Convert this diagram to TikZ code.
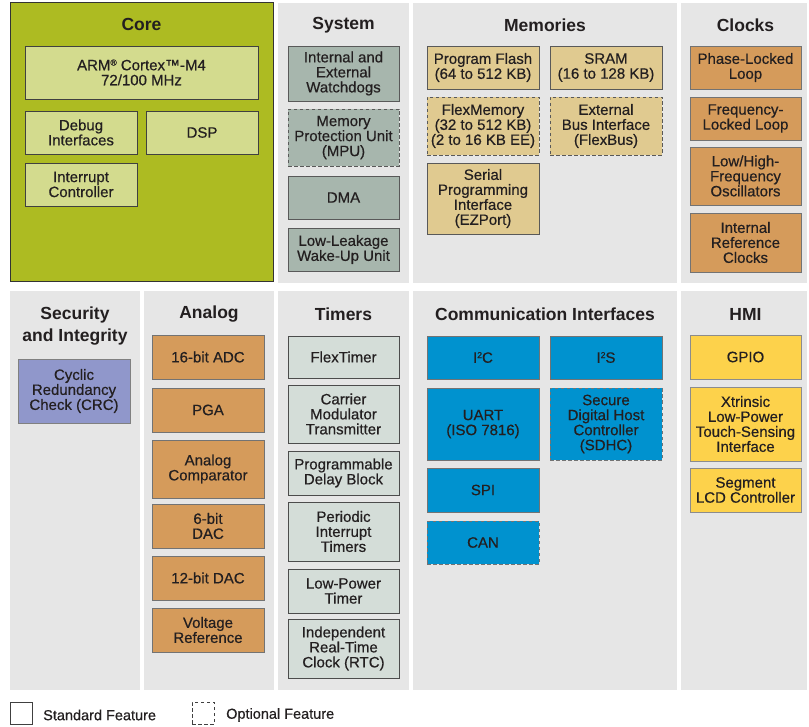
\documentclass[tikz,border=0pt]{standalone}
\usepackage{fontspec}
\setmainfont{Liberation Sans}
\newfontfamily\medfont{Liberation Sans}[FakeBold=0.5]
\definecolor{txt}{HTML}{231F20}
\definecolor{panelgrey}{HTML}{E6E6E6}
\definecolor{coreolive}{HTML}{ADBB22}
\definecolor{corelight}{HTML}{D3DB8E}
\definecolor{sysgreen}{HTML}{A7B6AD}
\definecolor{memtan}{HTML}{E0CA90}
\definecolor{clkorange}{HTML}{D59B5B}
\definecolor{crcblue}{HTML}{9097CB}
\definecolor{tmrgrey}{HTML}{D4DDD8}
\definecolor{comblue}{HTML}{0092CF}
\definecolor{hmiyellow}{HTML}{FDD24B}
\tikzset{
  x=1pt, y=-1pt,
  panel/.style={fill=panelgrey, draw=none},
  blk/.style={line width=0.8pt, inner sep=0pt, align=center,
    font=\medfont\fontsize{15}{15}\selectfont, text=txt},
  opt/.style={dash pattern=on 3.5pt off 2.5pt},
  ttl/.style={font=\fontsize{17.5}{22.5}\selectfont\bfseries, text=txt, align=center, inner sep=0pt},
  legtxt/.style={font=\medfont\fontsize{14.5}{14.5}\selectfont, text=txt, anchor=west, inner sep=0pt},
  corebox/.style={blk, fill=corelight, draw=black!75},
  sysbox/.style={blk, fill=sysgreen, draw=black!65},
  membox/.style={blk, fill=memtan, draw=black!65},
  clkbox/.style={blk, fill=clkorange, draw=black!55},
  crcbox/.style={blk, fill=crcblue, draw=black!50},
  tmrbox/.style={blk, fill=tmrgrey, draw=black!70},
  combox/.style={blk, fill=comblue, draw=black!55},
  hmibox/.style={blk, fill=hmiyellow, draw=black!45},
}
\newcommand\smallsup[1]{\raisebox{0.6ex}{\fontsize{8.5}{8.5}\selectfont #1}}
\newcommand\bx[7]{%
  \pgfmathsetmacro\bxw{#4-#2}\pgfmathsetmacro\bxh{#5-#3}%
  \pgfmathsetmacro\bxcx{(#2+#4)/2}\pgfmathsetmacro\bxcy{(#3+#5)/2}%
  \node[#6, minimum width=\bxw pt, minimum height=\bxh pt] (#1) at (\bxcx,\bxcy) {#7};}
\begin{document}
\begin{tikzpicture}
\useasboundingbox[fill=white] (0,0) rectangle (809,727);
% panels
\fill[coreolive, draw=black!80, line width=1pt] (10,3) rectangle (273,282);
\fill[panel] (278,3) rectangle (409,283);
\fill[panel] (413,3) rectangle (677,283);
\fill[panel] (681,3) rectangle (807,283);
\fill[panel] (10,291) rectangle (140,690);
\fill[panel] (144,291) rectangle (274,690);
\fill[panel] (278,291) rectangle (409,690);
\fill[panel] (413,291) rectangle (677,690);
\fill[panel] (681,291) rectangle (807,690);
% titles
\node[ttl] (tcore) at (141.5,24) {Core};
\node[ttl] (tsys) at (343.5,25) {System};
\node[ttl] (tmem) at (545,25) {Memories};
\node[ttl] (tclk) at (745.5,25) {Clocks};
\node[ttl] (tsec) at (75,326) {Security\\and Integrity};
\node[ttl] (tana) at (209,314) {Analog};
\node[ttl] (ttmr) at (343.5,314) {Timers};
\node[ttl] (tcom) at (545,314) {Communication Interfaces};
\node[ttl] (thmi) at (745.5,314) {HMI};
% Core
\bx{arm}{25}{46}{258}{99}{corebox}{ARM\smallsup{®} Cortex™-M4\\72/100 MHz}
\bx{dbg}{25}{111}{137}{154}{corebox}{Debug\\Interfaces}
\bx{dsp}{146}{111}{258}{154}{corebox}{DSP}
\bx{irq}{25}{163}{137}{206}{corebox}{Interrupt\\Controller}
% System
\bx{wdog}{288}{46}{399}{101}{sysbox}{Internal and\\External\\Watchdogs}
\bx{mpu}{288}{109}{399}{166}{sysbox,opt}{Memory\\Protection Unit\\(MPU)}
\bx{dma}{288}{176}{399}{219}{sysbox}{DMA}
\bx{llwu}{288}{228}{399}{271}{sysbox}{Low-Leakage\\Wake-Up Unit}
% Memories
\bx{flash}{427}{46}{539}{89}{membox}{Program Flash\\(64 to 512 KB)}
\bx{sram}{550}{46}{662}{89}{membox}{SRAM\\(16 to 128 KB)}
\bx{flexmem}{427}{97}{539}{155}{membox,opt}{FlexMemory\\(32 to 512 KB)\\(2 to 16 KB EE)}
\bx{flexbus}{550}{97}{662}{155}{membox,opt}{External\\Bus Interface\\(FlexBus)}
\bx{ezport}{427}{163}{539}{234}{membox}{Serial\\Programming\\Interface\\(EZPort)}
% Clocks
\bx{pll}{690}{46}{801}{89}{clkbox}{Phase-Locked\\Loop}
\bx{fll}{690}{97}{801}{140}{clkbox}{Frequency-\\Locked Loop}
\bx{osc}{690}{147}{801}{205}{clkbox}{Low/High-\\Frequency\\Oscillators}
\bx{irc}{690}{213}{801}{272}{clkbox}{Internal\\Reference\\Clocks}
% Security
\bx{crc}{18}{359}{130}{423}{crcbox}{Cyclic\\Redundancy\\Check (CRC)}
% Analog
\bx{adc}{152}{335}{264}{379}{clkbox}{16-bit ADC}
\bx{pga}{152}{388}{264}{432}{clkbox}{PGA}
\bx{cmp}{152}{440}{264}{498}{clkbox}{Analog\\Comparator}
\bx{dac6}{152}{504}{264}{548}{clkbox}{6-bit\\DAC}
\bx{dac12}{152}{556}{264}{600}{clkbox}{12-bit DAC}
\bx{vref}{152}{608}{264}{652}{clkbox}{Voltage\\Reference}
% Timers
\bx{ftm}{288}{336}{399}{378}{tmrbox}{FlexTimer}
\bx{cmt}{288}{385}{399}{443}{tmrbox}{Carrier\\Modulator\\Transmitter}
\bx{pdb}{288}{451}{399}{495}{tmrbox}{Programmable\\Delay Block}
\bx{pit}{288}{502}{399}{561}{tmrbox}{Periodic\\Interrupt\\Timers}
\bx{lpt}{288}{569}{399}{613}{tmrbox}{Low-Power\\Timer}
\bx{rtc}{288}{619}{399}{678}{tmrbox}{Independent\\Real-Time\\Clock (RTC)}
% Communication
\bx{iic}{427}{336}{539}{379}{combox}{I\smallsup{2}C}
\bx{iis}{550}{336}{662}{379}{combox}{I\smallsup{2}S}
\bx{uart}{427}{388}{539}{460}{combox}{UART\\(ISO 7816)}
\bx{sdhc}{550}{388}{662}{460}{combox,opt}{Secure\\Digital Host\\Controller\\(SDHC)}
\bx{spi}{427}{468}{539}{512}{combox}{SPI}
\bx{can}{427}{521}{539}{564}{combox,opt}{CAN}
% HMI
\bx{gpio}{690}{335}{801}{379}{hmibox}{GPIO}
\bx{tsi}{690}{387}{801}{461}{hmibox}{Xtrinsic\\Low-Power\\Touch-Sensing\\Interface}
\bx{lcd}{690}{468}{801}{512}{hmibox}{Segment\\LCD Controller}
% Legend
\bx{lstd}{10}{702}{32}{724}{blk,draw=black!75}{}
\node[legtxt] (lstdt) at (43,715) {Standard Feature};
\bx{lopt}{192}{702}{214}{724}{blk,draw=black!75,opt}{}
\node[legtxt] (loptt) at (226,715) {Optional Feature};
\end{tikzpicture}
\end{document}
